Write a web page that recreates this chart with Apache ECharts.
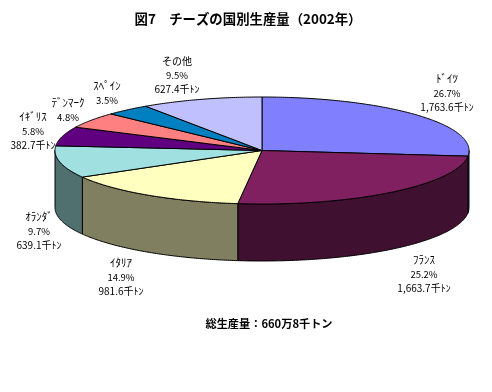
<!DOCTYPE html>
<html><head><meta charset="utf-8">
<style>html,body{margin:0;padding:0;background:#fff}#c{width:492px;height:392px}</style>
<script src="https://cdn.jsdelivr.net/npm/echarts@6/dist/echarts.min.js"></script>
</head><body><div id="c"></div>
<script>
const countries = ['ﾄﾞｲﾂ','ﾌﾗﾝｽ','ｲﾀﾘｱ','ｵﾗﾝﾀﾞ','ｲｷﾞﾘｽ','ﾃﾞﾝﾏｰｸ','ｽﾍﾟｲﾝ','その他'];
const production = [1763.6,1663.7,981.6,639.1,382.7,317.0,232.9,627.4];
const tonLabels = ['1,763.6千ﾄﾝ','1,663.7千ﾄﾝ','981.6千ﾄﾝ','639.1千ﾄﾝ','382.7千ﾄﾝ','','','627.4千ﾄﾝ'];

const topColors = ['#8080FF','#802060','#FFFFC0','#A0E0E0','#600080','#FF8080','#0080C0','#C0C0FF'];
const sideColors = ['#404080','#401030','#808060','#507070','#300040','#804040','#004060','#606080'];
const labelAnchors = [[447,79],[424,260],[121,263],[39,217],[33,117],[68,103],[107,86],[177,61]];
const nameSizes = [11,11,11,11,11,11,11,10];
const PCT_SIZE=9.5, TON_SIZE=10;
const CX=262, CY=150.5, RX=207, RY=53.5, DEPTH=57, LINE=14.2;

const total = production.reduce((a,b)=>a+b,0);
const startAngle = i => production.slice(0,i).reduce((a,b)=>a+b,0)/total*Math.PI*2;
const pt = (t,dy) => [CX+RX*Math.sin(t), CY-RY*Math.cos(t)+(dy||0)];
function arc(a,b,dy){
  const n=Math.max(2,Math.ceil((b-a)/0.01)), out=[];
  for(let k=0;k<=n;k++) out.push(pt(a+(b-a)*k/n,dy));
  return out;
}
const style=(fill)=>({fill,stroke:'#000',lineWidth:1});

const option={
  animation:false,
  backgroundColor:'#fff',
  title:[
    {text:'図7　チーズの国別生産量（2002年）',left:243,top:6,textAlign:'center',
     textStyle:{fontFamily:'Noto Sans CJK JP',fontSize:13.4,fontWeight:'bold',color:'#000',lineHeight:16}},
    {text:'総生産量：660万8千トン',left:264,top:312,textAlign:'center',
     textStyle:{fontFamily:'Noto Sans CJK JP',fontSize:11.2,fontWeight:'bold',color:'#000',lineHeight:14}}
  ],
  series:[
    {type:'custom',coordinateSystem:'none',silent:true,z:1,data:production,
     renderItem(p){
       const i=p.dataIndex, a=Math.max(startAngle(i),Math.PI/2), b=Math.min(startAngle(i+1),Math.PI*1.5);
       if(b<=a) return {type:'group',children:[]};
       const points=arc(a,b,0).concat(arc(a,b,DEPTH).reverse());
       return {type:'polygon',shape:{points},style:style(sideColors[i])};
     }},
    {type:'custom',coordinateSystem:'none',silent:true,z:2,data:production,
     renderItem(p){
       const i=p.dataIndex;
       const points=[[CX,CY]].concat(arc(startAngle(i),startAngle(i+1),0));
       return {type:'polygon',shape:{points},style:style(topColors[i])};
     }},
    {type:'custom',coordinateSystem:'none',silent:true,z:3,data:production,
     renderItem(p,api){
       const i=p.dataIndex, v=api.value(0);
       const lines=[countries[i],(v/total*100).toFixed(1)+'%'];
       if(tonLabels[i]) lines.push(tonLabels[i]);
       const sizes=[nameSizes[i],PCT_SIZE,TON_SIZE];
       return {type:'group',children:lines.map((t,k)=>({
         type:'text',
         style:{text:t,x:labelAnchors[i][0],y:labelAnchors[i][1]+k*LINE,align:'center',verticalAlign:'middle',
           fontFamily:'Noto Sans CJK JP',fontSize:sizes[k],fill:'#000'}
       }))};
     }}
  ]
};
echarts.init(document.getElementById('c'),null,{renderer:'canvas'}).setOption(option);
</script></body></html>
